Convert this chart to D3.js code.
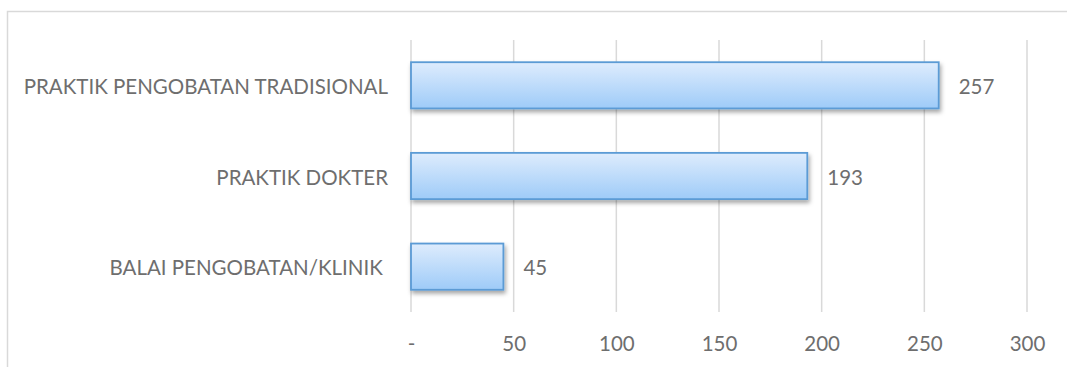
<!DOCTYPE html>
<html>
<head>
<meta charset="utf-8">
<script src="https://cdn.jsdelivr.net/npm/d3@7"></script>
<style>
  html, body { margin: 0; padding: 0; background: #fff; }
  svg { display: block; }
  text { font-family: Lato, "Open Sans", sans-serif; fill: #6e6e6e; white-space: pre; }
</style>
</head>
<body>
<svg id="chart" width="1067" height="367"></svg>
<script>
const categories = ["PRAKTIK PENGOBATAN TRADISIONAL", "PRAKTIK DOKTER", "BALAI PENGOBATAN/KLINIK "];
const values = [257, 193, 45];
const tickValues = [0, 50, 100, 150, 200, 250, 300];
const tickLabels = ["-", "50", "100", "150", "200", "250", "300"];

const svg = d3.select("#chart");
const plot = { left: 411, right: 1027, top: 40, bottom: 312 };
const fontSize = "20.5px";
const textColor = "#6e6e6e";

const defs = svg.append("defs");
const grad = defs.append("linearGradient").attr("id", "barGrad")
  .attr("x1", 0).attr("y1", 0).attr("x2", 0).attr("y2", 1);
grad.append("stop").attr("offset", "0%").attr("stop-color", "#deecfd");
grad.append("stop").attr("offset", "100%").attr("stop-color", "#9ecbf8");
const filt = defs.append("filter").attr("id", "shadow")
  .attr("x", "-10%").attr("y", "-20%").attr("width", "130%").attr("height", "160%");
filt.append("feDropShadow").attr("dx", 1.5).attr("dy", 3).attr("stdDeviation", 2)
  .attr("flood-color", "#000").attr("flood-opacity", 0.35);

// outer chart border (extends past right/bottom edges)
svg.append("rect").attr("x", 7.5).attr("y", 11.5).attr("width", 1200).attr("height", 500)
  .attr("fill", "none").attr("stroke", "#d9d9d9").attr("stroke-width", 1.5);

const x = d3.scaleLinear().domain([0, 300]).range([plot.left, plot.right]);
const y = d3.scaleBand().domain(categories).range([plot.top, plot.bottom])
  .paddingInner(0.49).paddingOuter(0.245);

// gridlines
svg.append("g").selectAll("line").data(tickValues).join("line")
  .attr("x1", d => x(d)).attr("x2", d => x(d))
  .attr("y1", plot.top).attr("y2", plot.bottom)
  .attr("stroke", "#d9d9d9").attr("stroke-width", 1.5);

// x tick labels
const xAxis = d3.axisBottom(x).tickValues(tickValues)
  .tickFormat((d, i) => tickLabels[i]).tickSize(0).tickPadding(0);
const gx = svg.append("g").attr("transform", `translate(0,${plot.bottom})`).call(xAxis);
gx.select(".domain").remove();
gx.selectAll("text").attr("y", 39).attr("dy", null)
  .style("font-family", "Lato, 'Open Sans', sans-serif").style("font-size", fontSize).attr("fill", textColor);

// y category labels
const yAxis = d3.axisLeft(y).tickSize(0).tickPadding(0);
const gy = svg.append("g").attr("transform", `translate(388,0)`).call(yAxis);
gy.select(".domain").remove();
gy.selectAll("text").attr("x", 0).attr("dy", "0.42em")
  .style("font-family", "Lato, 'Open Sans', sans-serif").style("font-size", fontSize).attr("fill", textColor)
  .style("white-space", "pre");

// bars
svg.append("g").selectAll("rect").data(values).join("rect")
  .attr("x", x(0))
  .attr("y", (d, i) => y(categories[i]))
  .attr("width", d => x(d) - x(0))
  .attr("height", y.bandwidth())
  .attr("fill", "url(#barGrad)")
  .attr("stroke", "#5b9bd5").attr("stroke-width", 1.8)
  .attr("filter", "url(#shadow)");

// value labels
svg.append("g").selectAll("text").data(values).join("text")
  .attr("x", d => x(d) + 20)
  .attr("y", (d, i) => y(categories[i]) + y.bandwidth() / 2)
  .attr("dy", "0.42em")
  .style("font-size", fontSize).attr("fill", textColor)
  .text(d => d);
</script>
</body>
</html>
